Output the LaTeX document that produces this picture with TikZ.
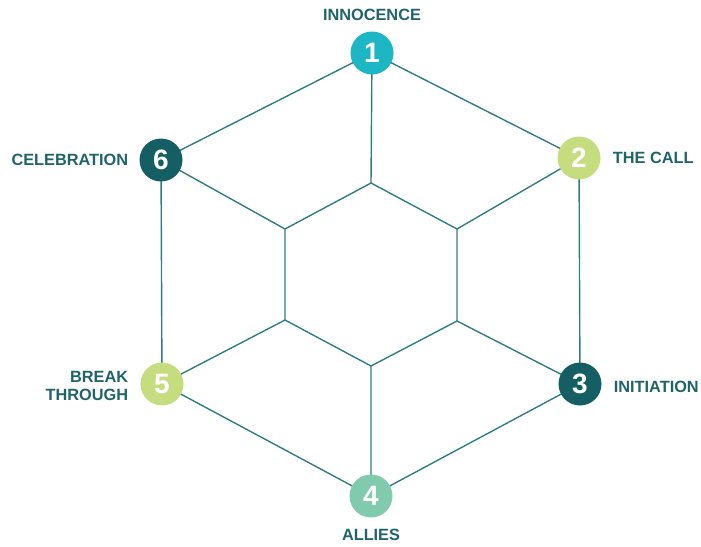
\documentclass[tikz,border=0pt]{standalone}
\usepackage{fontspec}
\setmainfont{Liberation Sans}
\definecolor{cLine}{HTML}{2F7D83}
\definecolor{cText}{HTML}{1F6468}
\definecolor{cCyan}{HTML}{1DB6C4}
\definecolor{cDark}{HTML}{155E63}
\definecolor{cLime}{HTML}{C6DD7F}
\definecolor{cMint}{HTML}{80CBAE}
\usetikzlibrary{positioning}
\tikzset{
	stage/.style={circle, minimum size=43pt, inner sep=0pt, text=white, font=\bfseries\fontsize{28}{28}\selectfont},
	lbl/.style={text=cText, font=\bfseries\fontsize{16.3}{18}\selectfont, inner sep=0pt},
	edge/.style={cLine, line width=1.4pt}
}
\begin{document}
\begin{tikzpicture}[x=1pt, y=-1pt]
		\useasboundingbox (0,0) rectangle (701,546);
		% inner hexagon
		\coordinate (iT) at (371,183);
		\coordinate (iUR) at (457,229);
		\coordinate (iLR) at (457,321);
		\coordinate (iB) at (371,366);
		\coordinate (iLL) at (285,320);
		\coordinate (iUL) at (285,229);
		% outer stages
		\coordinate (p1) at (372,53);
		\coordinate (p2) at (579,158);
		\coordinate (p3) at (580,384);
		\coordinate (p4) at (371,496);
		\coordinate (p5) at (162,384);
		\coordinate (p6) at (161,160);
		\draw [edge] (iT) -- (iUR) -- (iLR) -- (iB) -- (iLL) -- (iUL) -- cycle;
		\draw [edge] (p1) -- (p2) -- (p3) -- (p4) -- (p5) -- (p6) -- cycle;
		\draw [edge] (p1) -- (iT) (p2) -- (iUR) (p3) -- (iLR) (p4) -- (iB) (p5) -- (iLL) (p6) -- (iUL);
		\node [stage, fill=cCyan] (s1) at (p1) {1};
		\node [stage, fill=cLime] (s2) at (p2) {2};
		\node [stage, fill=cDark] (s3) at (p3) {3};
		\node [stage, fill=cMint] (s4) at (p4) {4};
		\node [stage, fill=cLime] (s5) at (p5) {5};
		\node [stage, fill=cDark] (s6) at (p6) {6};
		\node [lbl, above=10pt of s1] (l1) {INNOCENCE};
		\node [lbl, right=12pt of s2] (l2) {THE CALL};
		\node [lbl, right=12pt of s3, yshift=-3pt] (l3) {INITIATION};
		\node [lbl, below=11pt of s4] (l4) {ALLIES};
		\node [lbl, left=12pt of s5, align=right, yshift=-2pt] (l5) {BREAK\\THROUGH};
		\node [lbl, left=11pt of s6] (l6) {CELEBRATION};
		\end{tikzpicture}
\end{document}
